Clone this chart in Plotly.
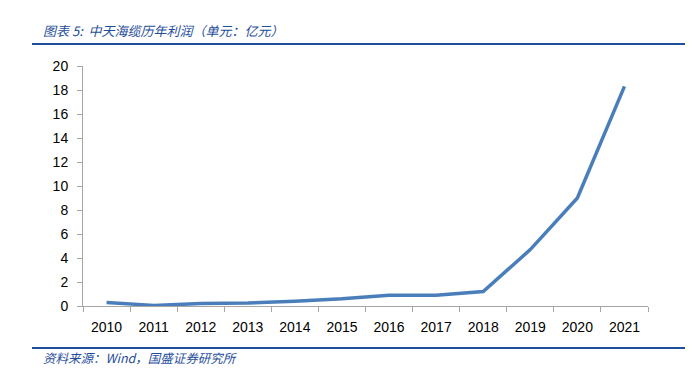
import plotly.graph_objects as go

years = ["2010", "2011", "2012", "2013", "2014", "2015", "2016", "2017", "2018", "2019", "2020", "2021"]
profit = [0.3, 0.05, 0.2, 0.25, 0.4, 0.6, 0.9, 0.9, 1.2, 4.7, 9.0, 18.3]
y_ticks = [0, 2, 4, 6, 8, 10, 12, 14, 16, 18, 20]

title_text = "图表 5:  中天海缆历年利润（单元：亿元）"
source_text = "资料来源：Wind，国盛证券研究所"

OFF = 8  # page body margin (figure starts at 8,8 in the window)
W, H = 693 - OFF, 378 - OFF
L, R, T, B = 83 - OFF, 45, 66 - OFF, 72
pw, ph = W - L - R, H - T - B

def px(x):
    return (x - OFF - L) / pw

def py(y):
    return (H - B - (y - OFF)) / ph

fig = go.Figure()
fig.add_trace(go.Scatter(
    x=years, y=profit, mode="lines",
    line=dict(color="#4A7EBB", width=3.5),
    hoverinfo="skip", showlegend=False,
))

axis_font = dict(family="Liberation Sans, Arial, sans-serif", size=14, color="#000000")

fig.update_layout(
    width=W, height=H,
    margin=dict(l=L, r=R, t=T, b=B),
    paper_bgcolor="white", plot_bgcolor="white",
    xaxis=dict(
        type="category", range=[-0.5, len(years) - 0.5], showgrid=False, showline=True,
        linecolor="#A6A6A6", linewidth=1,
        ticks="outside", tickson="boundaries", ticklen=5, tickcolor="#A6A6A6",
        tickfont=axis_font, zeroline=False, ticklabelstandoff=8,
    ),
    yaxis=dict(
        range=[0, 20], tickvals=y_ticks, showgrid=False, showline=True,
        linecolor="#A6A6A6", linewidth=1, ticks="outside", ticklen=5,
        tickcolor="#A6A6A6", tickfont=axis_font, zeroline=False, ticklabelstandoff=6,
    ),
    shapes=[
        dict(type="line", xref="paper", yref="paper", x0=px(32), x1=px(690), y0=py(44), y1=py(44),
             line=dict(color="#1F4E9A", width=2)),
        dict(type="line", xref="paper", yref="paper", x0=px(32), x1=px(690), y0=py(348), y1=py(348),
             line=dict(color="#1F4E9A", width=2)),
    ],
    annotations=[
        dict(text="<i>" + title_text + "</i>", xref="paper", yref="paper", x=px(41), y=py(30),
             xanchor="left", yanchor="middle", showarrow=False,
             font=dict(family="Noto Sans CJK SC, sans-serif", size=13, color="#1F4E9A")),
        dict(text="<i>" + source_text + "</i>", xref="paper", yref="paper", x=px(41), y=py(357),
             xanchor="left", yanchor="middle", showarrow=False,
             font=dict(family="Noto Sans CJK SC, sans-serif", size=12.5, color="#1F4E9A")),
    ],
)

fig.write_html("out.html")
